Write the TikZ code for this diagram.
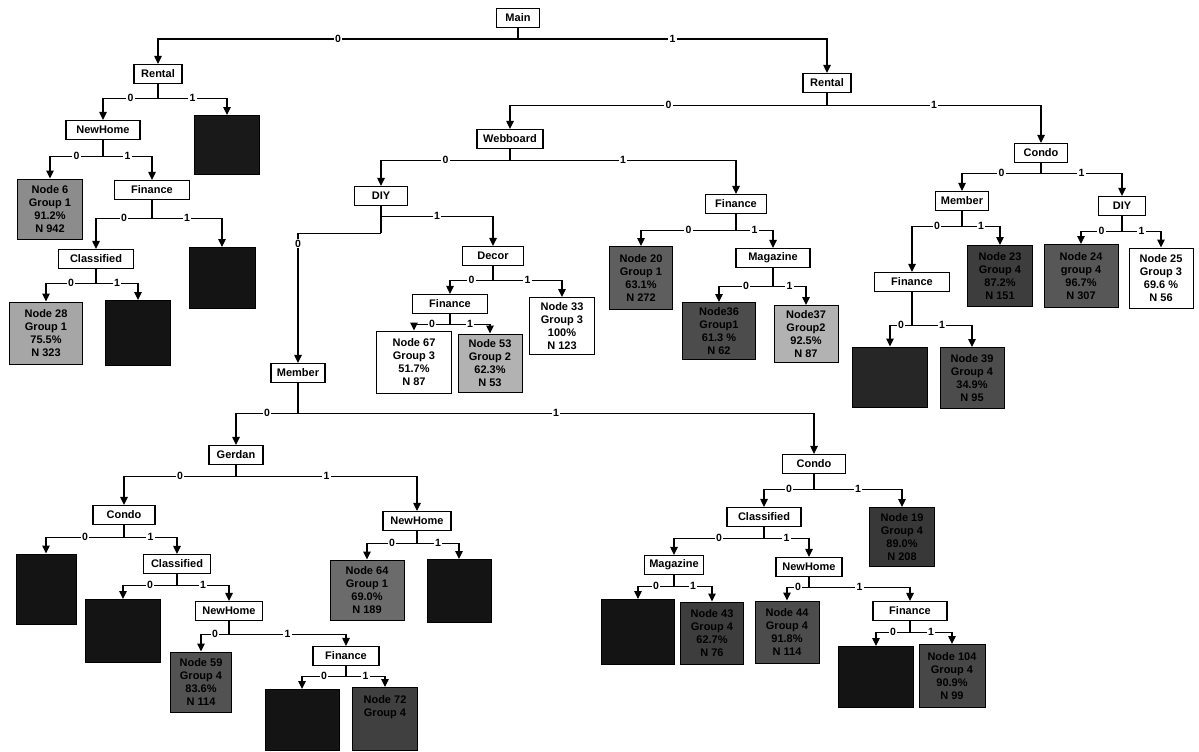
\documentclass[tikz,border=0pt]{standalone}
\usepackage{fontspec}
\setmainfont{Liberation Sans}
\usetikzlibrary{arrows.meta}
\begin{document}
\begin{tikzpicture}[x=1pt,y=-1pt,
  every node/.style={font=\fontsize{11}{13}\selectfont\bfseries},
  split/.style={draw, line width=1.2pt, fill=white, minimum height=19pt, inner sep=1pt},
  leaf/.style={draw, line width=1pt, align=center, inner sep=1pt, font=\fontsize{11}{13}\selectfont\bfseries},
  edge/.style={line width=1.2pt, -{Triangle[length=8pt,width=7.5pt]}},
  stem/.style={line width=1.2pt},
  lbl/.style={fill=white, inner sep=1.2pt, font=\fontsize{10.5}{10.5}\selectfont\bfseries},
]
\useasboundingbox (0,0) rectangle (1199,752);

% ---------- split nodes ----------
\node[split, minimum width=43pt] (main)  at (518,18)  {Main};
\node[split, minimum width=48pt] (rentL) at (158,74)  {Rental};
\node[split, minimum width=48pt] (rentR) at (827,83)  {Rental};
\node[split, minimum width=74pt] (nhA)   at (103,130) {NewHome};
\node[split, minimum width=75pt] (finA)  at (152,190) {Finance};
\node[split, minimum width=75pt] (clsA)  at (96,259)  {Classified};
\node[split, minimum width=66pt] (web)   at (510,139) {Webboard};
\node[split, minimum width=53pt] (diyM)  at (381,196) {DIY};
\node[split, minimum width=61pt] (finB)  at (736,204) {Finance};
\node[split, minimum width=53pt] (conR)  at (1041,153) {Condo};
\node[split, minimum width=61pt] (decor) at (493,256) {Decor};
\node[split, minimum width=75pt] (finC)  at (450,304) {Finance};
\node[split, minimum width=74pt] (magB)  at (773,258) {Magazine};
\node[split, minimum width=53pt] (memR)  at (962,201) {Member};
\node[split, minimum width=47pt] (diyR)  at (1122,206) {DIY};
\node[split, minimum width=75pt] (finR)  at (912,282) {Finance};
\node[split, minimum width=54pt] (memM)  at (298,373) {Member};
\node[split, minimum width=54pt] (gerd)  at (236,455) {Gerdan};
\node[split, minimum width=62pt] (conL)  at (124,515) {Condo};
\node[split, minimum width=68pt] (nhM)   at (417,521) {NewHome};
\node[split, minimum width=67pt] (clsL)  at (177,564) {Classified};
\node[split, minimum width=67pt] (nhL)   at (229,611) {NewHome};
\node[split, minimum width=66pt] (finL)  at (346,656) {Finance};
\node[split, minimum width=63pt] (conLR) at (814,464) {Condo};
\node[split, minimum width=74pt] (clsLR) at (764,517) {Classified};
\node[split, minimum width=59pt] (magL)  at (674,565) {Magazine};
\node[split, minimum width=66pt] (nhLR)  at (809,567) {NewHome};
\node[split, minimum width=74pt] (finLR) at (910,611) {Finance};

% ---------- leaves ----------
\node[leaf, fill=black!45, minimum width=65pt, minimum height=60pt] (n6) at (50,209) {Node 6\\Group 1\\91.2\%\\N 942};
\node[leaf, fill=black!90, minimum width=65pt, minimum height=59pt] (dA1) at (227,145) {};
\node[leaf, fill=black!92, minimum width=66pt, minimum height=61pt] (dA2) at (222,278) {};
\node[leaf, fill=black!35, minimum width=73pt, minimum height=62pt] (n28) at (46,333) {Node 28\\Group 1\\75.5\%\\N 323};
\node[leaf, fill=black!92, minimum width=65pt, minimum height=65pt] (dA3) at (138,333) {};
\node[leaf, fill=white, minimum width=65pt, minimum height=57pt] (n33) at (562,326) {Node 33\\Group 3\\100\%\\N 123};
\node[leaf, fill=white, minimum width=75pt, minimum height=62pt] (n67) at (414,362) {Node 67\\Group 3\\51.7\%\\N 87};
\node[leaf, fill=black!30, minimum width=64pt, minimum height=58pt] (n53) at (490,363) {Node 53\\Group 2\\62.3\%\\N 53};
\node[leaf, fill=black!63, minimum width=63pt, minimum height=63pt] (n20) at (641,278) {Node 20\\Group 1\\63.1\%\\N 272};
\node[leaf, fill=black!70, minimum width=73pt, minimum height=57pt] (n36) at (719,331) {Node36\\Group1\\61.3 \%\\N 62};
\node[leaf, fill=black!30, minimum width=64pt, minimum height=57pt] (n37) at (806,334) {Node37\\Group2\\92.5\%\\N 87};
\node[leaf, fill=black!76, minimum width=65pt, minimum height=61pt] (n23) at (1000,276) {Node 23\\Group 4\\87.2\%\\N 151};
\node[leaf, fill=black!66, minimum width=74pt, minimum height=63pt] (n24) at (1081,276) {Node 24\\group 4\\96.7\%\\N 307};
\node[leaf, fill=white, minimum width=64pt, minimum height=60pt] (n25) at (1161,278) {Node 25\\Group 3\\69.6 \%\\N 56};
\node[leaf, fill=black!85, minimum width=75pt, minimum height=60pt] (dR1) at (890,377) {};
\node[leaf, fill=black!70, minimum width=64pt, minimum height=61pt] (n39) at (972,378) {Node 39\\Group 4\\34.9\%\\N 95};
\node[leaf, fill=black!92, minimum width=60pt, minimum height=70pt] (dL1) at (46,589) {};
\node[leaf, fill=black!92, minimum width=75pt, minimum height=63pt] (dL2) at (123,631) {};
\node[leaf, fill=black!58, minimum width=74pt, minimum height=60pt] (n64) at (367,590) {Node 64\\Group 1\\69.0\%\\N 189};
\node[leaf, fill=black!92, minimum width=64pt, minimum height=63pt] (dM1) at (459,591) {};
\node[leaf, fill=black!68, minimum width=61pt, minimum height=60pt] (n59) at (201,682) {Node 59\\Group 4\\83.6\%\\N 114};
\node[leaf, fill=black!92, minimum width=74pt, minimum height=61pt] (dL3) at (302,720) {};
\node[leaf, fill=black!75, minimum width=65pt, minimum height=63pt] (nX) at (385,719) {Node 72\\Group 4\\ \\ };
\node[leaf, fill=black!78, minimum width=65pt, minimum height=59pt] (n19) at (902,537) {Node 19\\Group 4\\89.0\%\\N 208};
\node[leaf, fill=black!92, minimum width=73pt, minimum height=65pt] (dLR1) at (638,632) {};
\node[leaf, fill=black!76, minimum width=63pt, minimum height=62pt] (n43) at (712,633) {Node 43\\Group 4\\62.7\%\\N 76};
\node[leaf, fill=black!70, minimum width=64pt, minimum height=62pt] (n44) at (787,632) {Node 44\\Group 4\\91.8\%\\N 114};
\node[leaf, fill=black!92, minimum width=75pt, minimum height=61pt] (dLR2) at (876,677) {};
\node[leaf, fill=black!72, minimum width=66pt, minimum height=63pt] (n104) at (952,676) {Node 104\\Group 4\\90.9\%\\N 99};

% ---------- connectors ----------
\newcommand{\splitedges}[5]{%
  \path (#1.south) ++(0,#2) coordinate (j#1);
  \draw[stem] (#1.south) -- (j#1);
  \draw[edge] (j#1) -| node[lbl,pos=.25]{0} (#3.north);
  \draw[edge] (j#1) -| node[lbl,pos=.25]{1} (#4.north);
}
\splitedges{main}{11}{rentL}{rentR}{}
\splitedges{rentL}{14}{nhA}{dA1}{}
\splitedges{nhA}{16}{n6}{finA}{}
\splitedges{finA}{18}{clsA}{dA2}{}
\splitedges{clsA}{14}{n28}{dA3}{}
\splitedges{rentR}{12}{web}{conR}{}
\splitedges{web}{11}{diyM}{finB}{}
\splitedges{decor}{14}{finC}{n33}{}
\splitedges{finC}{10}{n67}{n53}{}
\splitedges{finB}{16}{n20}{magB}{}
\splitedges{magB}{18}{n36}{n37}{}
\splitedges{conR}{10}{memR}{diyR}{}
\splitedges{memR}{15}{finR}{n23}{}
\splitedges{diyR}{15}{n24}{n25}{}
\splitedges{finR}{33}{dR1}{n39}{}
\splitedges{memM}{30}{gerd}{conLR}{}
\splitedges{gerd}{11}{conL}{nhM}{}
\splitedges{conL}{12}{dL1}{clsL}{}
\splitedges{nhM}{12}{n64}{dM1}{}
\splitedges{clsL}{11}{dL2}{nhL}{}
\splitedges{nhL}{13}{n59}{finL}{}
\splitedges{finL}{10}{dL3}{nX}{}
\splitedges{conLR}{15}{clsLR}{n19}{}
\splitedges{clsLR}{11}{magL}{nhLR}{}
\splitedges{magL}{11}{dLR1}{n43}{}
\splitedges{nhLR}{10}{n44}{finLR}{}
\splitedges{finLR}{11}{dLR2}{n104}{}

% DIY (middle): branch 1 high, branch 0 lower and down the left
\path (diyM.south) ++(0,10) coordinate (jdiy1);
\path (diyM.south) ++(0,27) coordinate (jdiy0);
\draw[stem] (diyM.south) -- (jdiy0);
\draw[edge] (jdiy1) -| node[lbl,pos=.25]{1} (decor.north);
\draw[edge] (jdiy0) -| node[lbl,pos=.54]{0} (memM.north);
\end{tikzpicture}
\end{document}
